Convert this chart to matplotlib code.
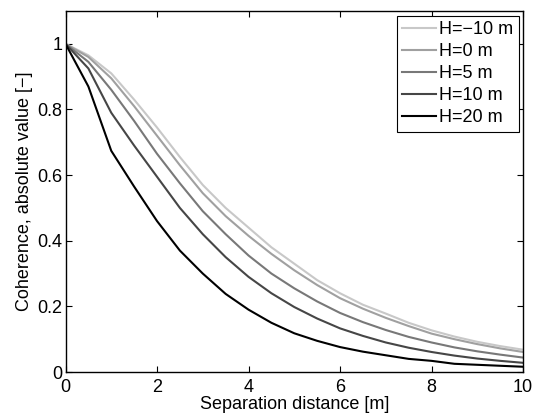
import matplotlib
matplotlib.use("Agg")
from matplotlib import pyplot as plt

plt.rcParams['font.family'] = ['Liberation Sans', 'DejaVu Sans']

# separation distance [m], sampled every 0.5 m
dist = [0, 0.5, 1, 1.5, 2, 2.5, 3, 3.5, 4, 4.5, 5,
        5.5, 6, 6.5, 7, 7.5, 8, 8.5, 9, 9.5, 10]

coh_m10 = [1.0, 0.965, 0.91, 0.83, 0.745, 0.655, 0.57, 0.50, 0.44, 0.38, 0.33,
           0.28, 0.24, 0.205, 0.178, 0.15, 0.127, 0.108, 0.092, 0.079, 0.068]
coh_0 = [1.0, 0.96, 0.895, 0.81, 0.72, 0.63, 0.545, 0.475, 0.415, 0.36, 0.31,
         0.265, 0.225, 0.193, 0.165, 0.14, 0.117, 0.10, 0.085, 0.072, 0.061]
coh_5 = [1.0, 0.945, 0.86, 0.765, 0.665, 0.575, 0.49, 0.42, 0.355, 0.30, 0.255,
         0.215, 0.18, 0.152, 0.128, 0.107, 0.09, 0.075, 0.063, 0.053, 0.044]
coh_10 = [1.0, 0.925, 0.79, 0.69, 0.595, 0.50, 0.42, 0.35, 0.29, 0.24, 0.198,
          0.163, 0.133, 0.11, 0.09, 0.074, 0.061, 0.05, 0.041, 0.034, 0.028]
coh_20 = [1.0, 0.87, 0.674, 0.565, 0.46, 0.37, 0.30, 0.238, 0.19, 0.15, 0.118,
          0.095, 0.076, 0.062, 0.051, 0.04, 0.034, 0.025, 0.022, 0.019, 0.016]

labels = ['H=\u221210 m', 'H=0 m', 'H=5 m', 'H=10 m', 'H=20 m']
series = [coh_m10, coh_0, coh_5, coh_10, coh_20]
colors = ['#c8c8c8', '#a0a0a0', '#787878', '#464646', '#000000']

fig = plt.figure(figsize=(5.33, 4.17), dpi=100)
ax = fig.add_axes([0.1229, 0.1079, 0.8584, 0.8657])

for ys, lab, c in zip(series, labels, colors):
    ax.plot(dist, ys, color=c, lw=1.5, label=lab)

ax.set_xlim(0, 10)
ax.set_ylim(0, 1.1)
ax.set_xticks([0, 2, 4, 6, 8, 10])
ax.set_yticks([0, 0.2, 0.4, 0.6, 0.8, 1])
ax.set_yticklabels(['0', '0.2', '0.4', '0.6', '0.8', '1'])
ax.tick_params(direction='in', length=4, width=0.8, labelsize=13,
               top=True, right=True)
ax.tick_params(axis='x', pad=5)
ax.tick_params(axis='y', pad=2)
for s in ax.spines.values():
    s.set_linewidth(1.0)

ax.set_xlabel('Separation distance [m]', fontsize=13, labelpad=0)
ax.set_ylabel('Coherence, absolute value [\u2212]', fontsize=13, labelpad=3)

leg = ax.legend(loc='upper right', fontsize=13, frameon=True, fancybox=False,
                edgecolor='black', framealpha=1, handlelength=1.9,
                handletextpad=0.15, labelspacing=0.28, borderpad=0.3,
                borderaxespad=0.25)
leg.get_frame().set_linewidth(0.8)

fig.savefig('out.png', dpi=100)
